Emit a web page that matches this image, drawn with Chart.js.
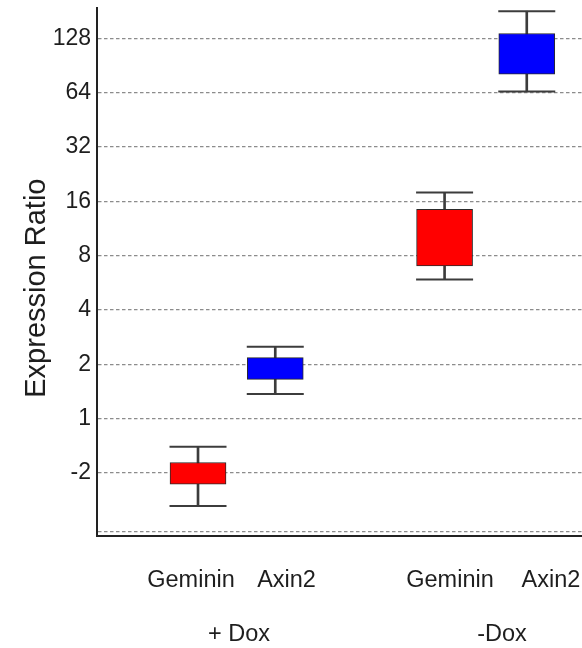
<!DOCTYPE html>
<html>
<head>
<meta charset="utf-8">
<script src="https://cdn.jsdelivr.net/npm/chart.js@4.4.1/dist/chart.umd.min.js"></script>
<style>
  html, body { margin: 0; padding: 0; background: #ffffff; overflow: hidden; }
  #wrap { width: 582px; height: 648px; }
</style>
</head>
<body>
<div id="wrap"><canvas id="chart" width="582" height="648"></canvas></div>
<script>
// Categories and groups
const categories = ['Geminin', 'Axin2', 'Geminin', 'Axin2'];
const groups = ['+ Dox', '-Dox'];

// Box plot statistics (log2 units of the expression ratio)
const whiskerLow  = [-1.61, 0.45, 2.56, 6.02];
const boxLow      = [-1.21, 0.72, 2.81, 6.34];
const boxHigh     = [-0.81, 1.12, 3.85, 7.09];
const whiskerHigh = [-0.52, 1.32, 4.16, 7.50];

// Y tick values (log2) and the labels printed beside them
const tickValues = [-1, 0, 1, 2, 3, 4, 5, 6, 7];
const tickLabels = ['-2', '1', '2', '4', '8', '16', '32', '64', '128'];

// Layout: where each box sits along the x axis, and where text is anchored
const slots = [0, 0.94, 3, 4];
const labelSlots = [-0.085, 1.077, 3.066, 4.294];
const groupSlots = [0.499, 3.698];
const X_MIN = -1.229, X_MAX = 4.672;
const Y_MIN = -2.164, Y_MAX = 7.56;
const FLOOR_LINE = -2.08;

const boxColors = ['#ff0000', '#0000ff', '#ff0000', '#0000ff'];
const FONT = '"Liberation Sans", Arial, Helvetica, sans-serif';
const TEXT = '#1e1e1e';
const WHISKER = '#3c3c3c';

const boxData = slots.map((s, i) => ({ x: s, y: [boxLow[i], boxHigh[i]] }));
const stemData = slots.map((s, i) => ({ x: s, y: [whiskerLow[i], whiskerHigh[i]] }));
const capData = slots.map((s, i) => ({ x: s, y: whiskerLow[i] }))
  .concat(slots.map((s, i) => ({ x: s, y: whiskerHigh[i] })));

// Pin an axis to a fixed thickness and stop it from reserving label overflow room
const NO_PAD = { left: 0, top: 0, right: 0, bottom: 0 };
function fixed(size) {
  return function (scale) {
    if (scale.isHorizontal()) scale.height = size; else scale.width = size;
    scale.paddingTop = 0; scale.paddingBottom = 0;
    scale.paddingLeft = 0; scale.paddingRight = 0;
    scale.getPadding = () => NO_PAD;
  };
}

new Chart(document.getElementById('chart'), {
  type: 'bar',
  data: {
    datasets: [
      {
        label: 'box',
        data: boxData,
        backgroundColor: boxColors,
        borderColor: '#2a2a2a',
        borderWidth: 1,
        borderSkipped: false,
        barThickness: 56,
        grouped: false
      },
      {
        label: 'stem',
        data: stemData,
        backgroundColor: WHISKER,
        borderWidth: 0,
        barThickness: 2,
        grouped: false
      },
      {
        type: 'scatter',
        label: 'caps',
        data: capData,
        pointStyle: 'line',
        radius: 28.5,
        borderColor: WHISKER,
        borderWidth: 2,
        backgroundColor: WHISKER,
        showLine: false
      }
    ]
  },
  options: {
    responsive: false,
    animation: false,
    layout: { autoPadding: false, padding: { top: 8, left: 0, right: 0, bottom: 0 } },
    plugins: { legend: { display: false }, tooltip: { enabled: false } },
    scales: {
      x: {
        type: 'linear',
        position: 'bottom',
        weight: 0,
        offset: false,
        min: X_MIN,
        max: X_MAX,
        afterBuildTicks: (scale) => { scale.ticks = labelSlots.map(v => ({ value: v })); },
        afterFit: fixed(58),
        grid: { display: true, offset: false, color: 'rgba(0,0,0,0)', drawTicks: false },
        border: { display: true, color: '#222222', width: 2 },
        ticks: {
          autoSkip: false,
          maxRotation: 0,
          padding: 30,
          color: TEXT,
          font: { family: FONT, size: 23.5 },
          callback: (v, i) => categories[i]
        }
      },
      x2: {
        type: 'linear',
        position: 'bottom',
        weight: 1,
        offset: false,
        min: X_MIN,
        max: X_MAX,
        afterBuildTicks: (scale) => { scale.ticks = groupSlots.map(v => ({ value: v })); },
        afterFit: fixed(54),
        grid: { display: false, offset: false, drawTicks: false },
        border: { display: false },
        ticks: {
          autoSkip: false,
          maxRotation: 0,
          padding: 26,
          color: TEXT,
          font: { family: FONT, size: 23.5 },
          callback: (v, i) => groups[i]
        }
      },
      y: {
        type: 'linear',
        position: 'left',
        min: Y_MIN,
        max: Y_MAX,
        afterBuildTicks: (scale) => {
          scale.ticks = [FLOOR_LINE].concat(tickValues).map(v => ({ value: v }));
        },
        afterFit: fixed(97),
        grid: {
          color: '#8c8c8c',
          lineWidth: 1.2,
          drawTicks: false
        },
        border: { display: true, color: '#222222', width: 2, dash: [3.5, 2.5] },
        ticks: {
          padding: 6,
          color: TEXT,
          font: { family: FONT, size: 23 },
          callback: (v) => {
            const k = tickValues.indexOf(v);
            return k >= 0 ? tickLabels[k] : '';
          }
        },
        title: {
          display: true,
          text: 'Expression Ratio    ',
          color: TEXT,
          font: { family: FONT, size: 29 },
          padding: { top: 20, bottom: 0 }
        }
      }
    }
  }
});
</script>
</body>
</html>
